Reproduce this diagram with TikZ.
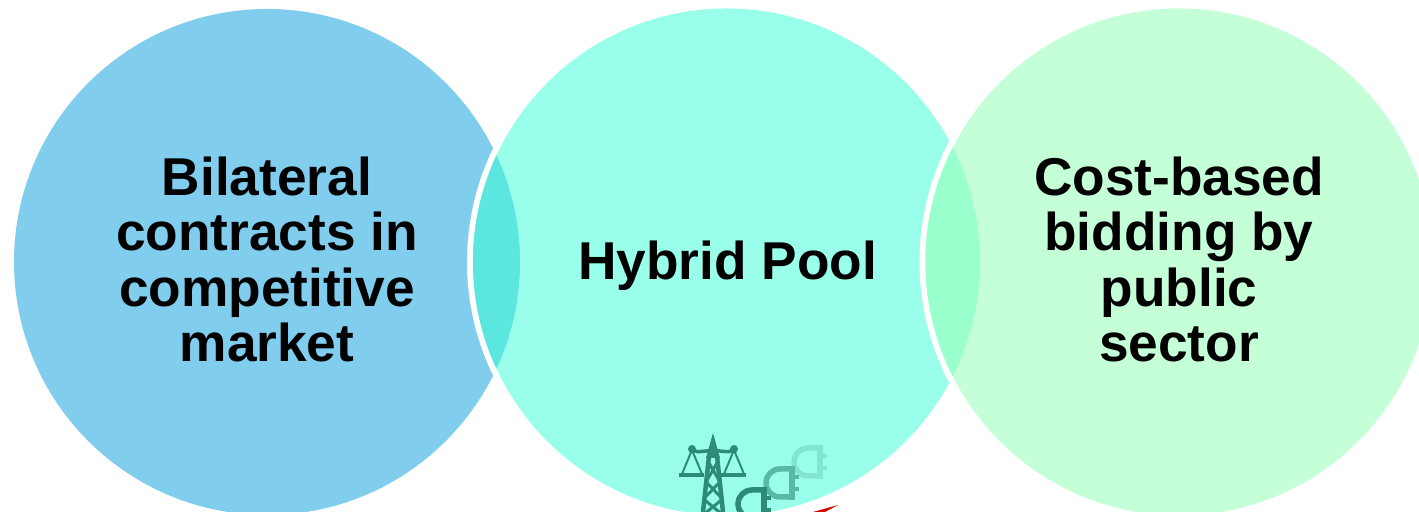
\documentclass[tikz,border=0pt]{standalone}
\usepackage{fontspec}
\setmainfont{Liberation Sans}
\usetikzlibrary{calc}

\definecolor{leftblue}{HTML}{80CDEE}
\definecolor{midaqua}{HTML}{99FFEB}
\definecolor{rightgreen}{HTML}{C4FFD8}
\definecolor{lensleft}{HTML}{5CE6E0}
\definecolor{lensright}{HTML}{99FFCC}
\definecolor{icondark}{HTML}{2E8B7A}

\tikzset{
    circlelabel/.style={align=center,font=\fontsize{15.15}{15.7}\selectfont\bfseries},
    ring/.style={draw=white,line width=0.06cm},
    plug/.pic={
        \draw[line width=0.055cm,pic actions] (0,0.14) -- (-0.12,0.14) arc (90:270:0.14) -- (0,-0.14);
        \draw[line width=0.055cm,pic actions] (0,0.17) -- (0,-0.17);
        \draw[line width=0.04cm,pic actions] (0,0.06) -- (0.07,0.06);
        \draw[line width=0.04cm,pic actions] (0,-0.06) -- (0.07,-0.06);
    }
}

\begin{document}
\begin{tikzpicture}

    \path[use as bounding box,clip] (0,0) rectangle (14.19,5.12);
    \fill[white] (0,0) rectangle (14.19,5.12);

    \coordinate (left) at (2.67,2.50);
    \coordinate (mid) at (7.265,2.50);
    \coordinate (right) at (11.79,2.50);

    % Circles, each one over the one before
    \fill[leftblue] (left) circle (2.53);
    \draw[ring] (mid) circle (2.565);
    \fill[midaqua] (mid) circle (2.535);
    \draw[ring] (right) circle (2.565);
    \fill[rightgreen] (right) circle (2.535);

    % Overlaps
    \begin{scope}
        \clip (left) circle (2.53);
        \fill[lensleft] (mid) circle (2.535);
    \end{scope}
    \begin{scope}
        \clip (mid) circle (2.535);
        \fill[lensright] (right) circle (2.535);
    \end{scope}

    \node[circlelabel] (bilateral) at ($(left)+(0,0.025)$) {Bilateral\\contracts in\\competitive\\market};
    \node[circlelabel] (hybrid) at ($(mid)+(0.01,-0.035)$) {Hybrid Pool};
    \node[circlelabel] (cost) at ($(right)+(0,0.025)$) {Cost-based\\bidding by\\public\\sector};

    % Tower
    \fill[icondark] (7.13,0.79) -- (7.20,0.54) -- (7.06,0.54) -- cycle;
    \draw[icondark,line width=0.045cm] (7.09,0.56) -- (7.03,0) (7.17,0.56) -- (7.23,0);
    \foreach \ya/\yb in {0.49/0.30,0.30/0.13,0.13/-0.05}
        \draw[icondark,line width=0.03cm] ($(7.13,\ya)+({-0.04-(0.49-\ya)*0.16},0)$) -- ($(7.13,\yb)+({0.04+(0.49-\yb)*0.16},0)$)
            ($(7.13,\ya)+({0.04+(0.49-\ya)*0.16},0)$) -- ($(7.13,\yb)+({-0.04-(0.49-\yb)*0.16},0)$);

    % Scales
    \draw[icondark,line width=0.035cm] (6.92,0.63) .. controls (7.00,0.56) and (7.06,0.65) .. (7.13,0.59) .. controls (7.20,0.65) and (7.26,0.56) .. (7.34,0.63);
    \foreach \x in {6.92,7.34} {
        \fill[icondark] (\x,0.63) circle (0.04);
        \draw[icondark,line width=0.02cm] (\x-0.10,0.38) -- (\x,0.62) -- (\x+0.10,0.38);
        \draw[icondark,line width=0.04cm] (\x-0.13,0.37) -- (\x+0.12,0.37);
    }

    % Plugs
    \pic[draw=icondark!22!midaqua] at (8.20,0.50) {plug};
    \pic[draw=icondark!60!midaqua] at (7.92,0.29) {plug};
    \pic[draw=icondark] at (7.64,0.08) {plug};

    \fill[red!85!black] (8.13,0) -- (8.38,0.07) -- (8.25,0) -- cycle;

\end{tikzpicture}
\end{document}
